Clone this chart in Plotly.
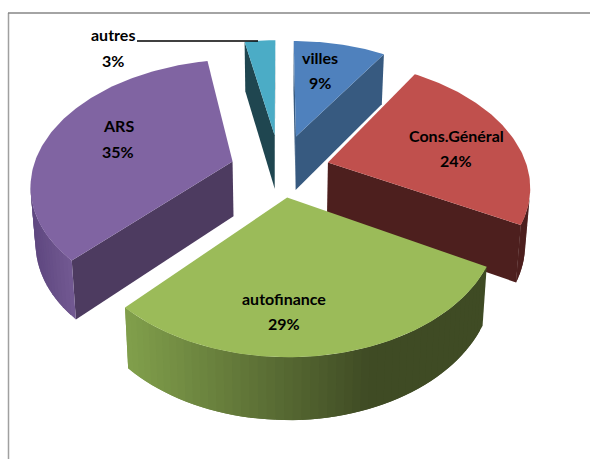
import math
import plotly.graph_objects as go

categories = ["villes", "Cons.Général", "autofinance", "ARS", "autres"]
shares = [9, 24, 29, 35, 3]

top_colors = ["#4f81bd", "#c0504d", "#9bbb59", "#8064a2", "#4bacc6"]
wall_colors = ["#375a80", "#4d1f1e", "#3f4b24", "#4d3b60", "#1f4650"]
explode = [0.30, 0.25, 0.22, 0.25, 0.30]
draw_order = [4, 0, 3, 1, 2]
label_xy = [(320, 57, 82), (456, 135, 160), (284, 298, 323), (118, 125, 151), (113, 34, 60)]

CX, CY, RX, KY, U, DEPTH, SHRINK = 280, 170, 200, 122, 0.17, 55, 0.98


def project(X, Y, low=False):
    s = 1 / (1 + U * Y)
    x = RX * X * s
    y = CY - KY * Y * s
    if low:
        return CX + x * SHRINK, y + DEPTH * (1 + 0.55 * (s - 1))
    return CX + x, y


def polar(a):
    r = math.radians(a)
    return math.sin(r), math.cos(r)


def mix(c1, c2, t):
    t = max(0, min(1, t))
    a = [int(c1[i:i + 2], 16) for i in (1, 3, 5)]
    b = [int(c2[i:i + 2], 16) for i in (1, 3, 5)]
    return "#" + "".join(f"{round(p + (q - p) * t):02x}" for p, q in zip(a, b))


def wall_color(i, px):
    if categories[i] == "autofinance":
        return mix("#809e4b", "#3f4b24", (px - 130) / 240)
    if categories[i] == "ARS":
        return mix("#5f4880", "#735a93", (px - 33) / 40)
    return wall_colors[i]


def visible(X, Y, nx, ny):
    return nx * (0 - X) + ny * (-1 / U - Y) > 0


fig = go.Figure()


def poly(pts, color):
    fig.add_trace(go.Scatter(
        x=[p[0] for p in pts] + [pts[0][0]],
        y=[p[1] for p in pts] + [pts[0][1]],
        mode="lines", fill="toself", fillcolor=color,
        line=dict(color=color, width=0), hoverinfo="skip", showlegend=False,
    ))


angles = []
acc = 0
for v in shares:
    a0 = acc * 3.6
    acc += v
    angles.append((a0, acc * 3.6))

for i in draw_order:
    a0, a1 = angles[i]
    mid = (a0 + a1) / 2
    ex, ey = polar(mid)
    ax, ay = ex * explode[i], ey * explode[i]

    # radial walls
    for ang, nrm in ((a0, a0 - 90), (a1, a1 + 90)):
        sx, sy = polar(ang)
        nx, ny = polar(nrm)
        if visible(ax, ay, nx, ny):
            q = (ax + sx, ay + sy)
            poly([project(ax, ay), project(*q), project(*q, low=True), project(ax, ay, low=True)], wall_colors[i])

    # outer wall: each band runs to the far end of the next so no seams show
    n = max(2, int((a1 - a0) / 2))
    step = (a1 - a0) / n
    for k in range(n):
        b0 = a0 + k * step
        b1 = min(a1, b0 + 2 * step)
        mx, my = polar(b0 + step / 2)
        arc = []
        m = 6
        for j in range(m + 1):
            sj, cj = polar(b0 + (b1 - b0) * j / m)
            arc.append((ax + sj, ay + cj))
        if visible(ax + mx, ay + my, mx, my):
            top_edge = [project(*p) for p in arc]
            low_edge = [project(*p, low=True) for p in reversed(arc)]
            poly(top_edge + low_edge, wall_color(i, project(ax + mx, ay + my)[0]))

    # top face
    pts = [project(ax, ay)]
    n = max(8, int(a1 - a0))
    for k in range(n + 1):
        sx, sy = polar(a0 + (a1 - a0) * k / n)
        pts.append(project(ax + sx, ay + sy))
    poly(pts, top_colors[i])

# leader line for the smallest slice
fig.add_trace(go.Scatter(x=[137, 258], y=[41, 41], mode="lines",
                         line=dict(color="#000000", width=1.5), hoverinfo="skip", showlegend=False))

FONT = dict(family="Lato, sans-serif", size=16, color="#000000")
annotations = []
for cat, v, (lx, y1, y2) in zip(categories, shares, label_xy):
    for txt, ly in ((cat, y1), (f"{v}%", y2)):
        annotations.append(dict(x=lx, y=ly, text=f"<b>{txt}</b>", showarrow=False, font=FONT,
                                xref="x", yref="y", xanchor="center", yanchor="middle"))

fig.update_layout(
    width=590, height=459, autosize=False,
    margin=dict(l=0, r=0, t=0, b=0),
    paper_bgcolor="#ffffff", plot_bgcolor="#ffffff", showlegend=False,
    xaxis=dict(range=[0, 590], visible=False, fixedrange=True),
    yaxis=dict(range=[459, 0], visible=False, fixedrange=True),
    annotations=annotations,
    shapes=[
        dict(type="line", x0=8.5, x1=8.5, y0=13, y1=459, line=dict(color="#a0a0a0", width=1.5)),
        dict(type="line", x0=8, x1=590, y0=13, y1=13, line=dict(color="#868686", width=1.5)),
    ],
)
fig.write_html("out.html", config=dict(displayModeBar=False),
               post_script="document.body.style.margin='0';document.body.style.overflow='hidden';")
